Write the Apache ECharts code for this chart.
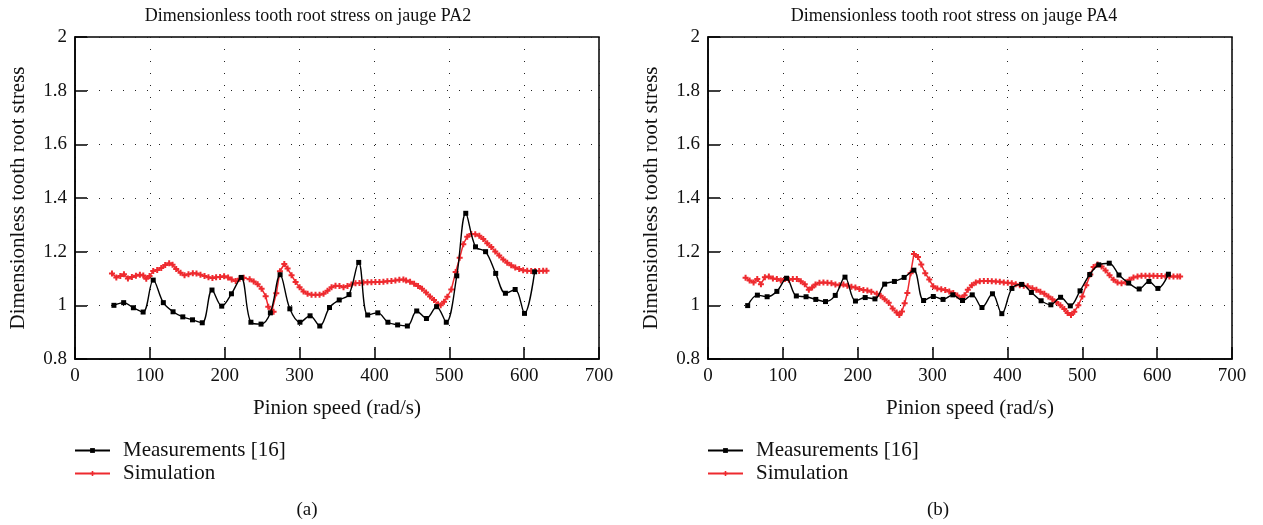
<!DOCTYPE html>
<html>
<head>
<meta charset="utf-8">
<script src="https://cdn.jsdelivr.net/npm/echarts@6/dist/echarts.min.js"></script>
<style>
html,body{margin:0;padding:0;background:#fff;}
#c{width:1263px;height:525px;}
</style>
</head>
<body>
<div id="c"></div>
<script>
// ---- data (a): jauge PA2 ----
const measX_a = [52,65,78,91,104.5,118,131,144,157,170,183,196,209,222,235,248.5,261,274,287,300.5,314,327,340,353,366,379,391,404.5,418,431,444,456.5,469.5,483,496,510,522,535,548.5,562,575,588,600.5,614];
const measY_a = [1.0,1.01,0.991,0.975,1.094,1.01,0.976,0.957,0.946,0.935,1.057,0.997,1.043,1.104,0.937,0.930,0.972,1.114,0.987,0.937,0.961,0.923,0.992,1.02,1.04,1.16,0.964,0.972,0.937,0.927,0.923,0.979,0.951,0.995,0.937,1.11,1.343,1.218,1.20,1.119,1.045,1.059,0.97,1.125];
const simX_a = [49.4,55.2,60.5,65.4,70.7,76,81.4,86.7,91.2,95.2,99.6,104.5,109.8,115.2,120.5,125.8,130.3,135.2,141,146.3,151.6,157.4,162.3,167.6,173,178.3,183.6,188.5,193.8,199.2,204.5,209.4,214.7,220,225.4,233.3,238.7,244,249.3,254.7,258.2,262.7,265.3,268.9,273.8,279.6,284,289.3,294.7,300,305.3,310.7,316,321.3,326.7,332,337.3,342.7,348,353.3,358.7,364,369.3,374.7,380,385.3,390.7,396,401.3,406.7,412,417.3,422.7,428,433.3,438.7,442.3,447.6,453,458.3,463.6,469,474.3,479.6,485,488.5,493,497.4,502.7,508.5,513.9,518.7,524,529.4,534.7,540.1,545.4,550.7,556.1,561.4,566.7,572.1,577.4,582.7,588.1,593.4,598.7,604.1,609.4,614.7,620.1,625.4,629.9];
const simY_a = [1.119,1.104,1.109,1.116,1.100,1.106,1.11,1.114,1.111,1.099,1.109,1.128,1.132,1.139,1.15,1.157,1.151,1.135,1.121,1.112,1.116,1.12,1.119,1.114,1.109,1.105,1.102,1.105,1.106,1.108,1.104,1.096,1.091,1.099,1.103,1.097,1.089,1.079,1.062,1.034,0.995,0.976,0.976,1.045,1.127,1.154,1.137,1.112,1.087,1.067,1.052,1.043,1.039,1.039,1.039,1.043,1.054,1.067,1.073,1.072,1.067,1.072,1.078,1.082,1.083,1.085,1.086,1.086,1.087,1.087,1.088,1.090,1.091,1.093,1.095,1.096,1.093,1.088,1.080,1.072,1.062,1.048,1.033,1.020,1.004,1.0,1.013,1.032,1.059,1.124,1.177,1.228,1.256,1.266,1.265,1.259,1.247,1.231,1.217,1.201,1.186,1.171,1.159,1.149,1.141,1.135,1.131,1.129,1.128,1.128,1.128,1.129,1.129];

// ---- data (b): jauge PA4 ----
const measX_b = [53,66,79,92,105,118,131,144,157,170,183,197,210,223,236,249,262,275,288,301,314,327,340,353,366,380,392.5,406,419,432,445,458,471,484,497,510,522,536,549,562,576,589,601,615];
const measY_b = [0.999,1.038,1.032,1.052,1.101,1.035,1.032,1.022,1.014,1.037,1.105,1.016,1.029,1.024,1.079,1.089,1.104,1.131,1.018,1.033,1.022,1.039,1.018,1.039,0.992,1.043,0.969,1.063,1.078,1.048,1.017,1.002,1.030,0.998,1.054,1.115,1.151,1.157,1.113,1.083,1.061,1.089,1.063,1.116];
const simX_b = [50.2,55.6,60.9,65.8,70.7,76,81.3,86.7,92,97.3,102.7,108,113.3,118.7,124,129.3,134.7,139.1,143.6,148.9,154.2,159.6,164.9,170.2,175.6,180.9,186.2,191.6,196.9,202.2,207.6,212.9,218.2,225.4,230.7,236,241.4,246.7,252,255.6,259.1,262.7,266.3,270.7,275.1,280.5,284.9,290.2,295.6,300.9,306.3,311.6,316.9,322.3,327.6,333,338.3,342.7,347.1,352.5,357.8,363.1,368.5,373.8,379.1,384.5,389.8,395.1,400.5,405.8,411.1,416.5,421.8,427.1,433.3,438.7,444,449.3,454.7,460,465.3,470.7,476,480.4,484.9,489.3,494.7,500,505.3,510.7,515.1,520.4,525.8,531.1,536.4,541.8,547.1,552.4,557.8,563.1,568.4,573.8,579.1,584.4,589.8,595.1,600.4,605.8,611.1,616.4,621.8,627.1,630.7];
const simY_b = [1.103,1.093,1.085,1.098,1.079,1.105,1.107,1.100,1.098,1.093,1.098,1.095,1.098,1.098,1.090,1.079,1.058,1.066,1.078,1.084,1.085,1.084,1.082,1.078,1.075,1.078,1.073,1.069,1.066,1.061,1.057,1.055,1.051,1.043,1.036,1.023,1.010,0.988,0.973,0.964,0.977,1.008,1.046,1.12,1.191,1.18,1.152,1.12,1.096,1.071,1.063,1.06,1.057,1.052,1.046,1.037,1.026,1.038,1.058,1.075,1.085,1.090,1.091,1.091,1.090,1.089,1.088,1.085,1.084,1.082,1.079,1.075,1.073,1.071,1.064,1.058,1.051,1.043,1.033,1.023,1.012,1.0,0.986,0.971,0.964,0.976,1.0,1.033,1.075,1.115,1.143,1.152,1.145,1.130,1.112,1.095,1.085,1.082,1.086,1.095,1.104,1.107,1.110,1.110,1.110,1.110,1.109,1.109,1.107,1.107,1.107,1.107,1.107];

const titles = ['Dimensionless tooth root stress on jauge PA2', 'Dimensionless tooth root stress on jauge PA4'];
const panelLabels = ['(a)', '(b)'];
const xName = 'Pinion speed (rad/s)';
const yName = 'Dimensionless tooth root stress';
const measName = 'Measurements [16]';
const simName = 'Simulation';

const FONT = 'Liberation Serif';
const zip = (xs, ys) => xs.map((x, i) => [x, ys[i]]);
const plusPath = 'path://M2,0h2v2h2v2h-2v2h-2v-2h-2v-2h2z';

const gridLefts = [75, 708];
const W = 524, H = 322, TOP = 37;

function xAxisOf(i) {
  return {
    gridIndex: i, type: 'value', min: 0, max: 700, interval: 100,
    name: xName, nameLocation: 'middle', nameGap: 39,
    nameTextStyle: {fontFamily: FONT, fontSize: 21, color: '#111'},
    axisLine: {show: true, lineStyle: {color: '#000', width: 1.5}},
    axisTick: {show: true, inside: true, length: 12, lineStyle: {color: '#000', width: 1.5}},
    axisLabel: {fontFamily: FONT, fontSize: 19, color: '#111', margin: 8},
    splitLine: {show: true, lineStyle: {color: '#222', width: 1, type: [1, 11]}}
  };
}
function yAxisOf(i) {
  return {
    gridIndex: i, type: 'value', min: 0.8, max: 2, interval: 0.2,
    name: yName, nameLocation: 'middle', nameGap: 46, nameRotate: 90,
    nameTextStyle: {fontFamily: FONT, fontSize: 21, color: '#111'},
    axisLine: {show: true, lineStyle: {color: '#000', width: 1.5}},
    axisTick: {show: true, inside: true, length: 12, lineStyle: {color: '#000', width: 1.5}},
    axisLabel: {fontFamily: FONT, fontSize: 19, color: '#111', margin: 8,
      formatter: v => String(Math.round(v * 10) / 10)},
    splitLine: {show: true, lineStyle: {color: '#222', width: 1, type: [1, 11]}}
  };
}
function seriesOf(i, mx, my, sx, sy) {
  return [
    {name: simName, type: 'line', xAxisIndex: i, yAxisIndex: i, data: zip(sx, sy),
     symbol: plusPath, symbolSize: 6, showSymbol: true, smooth: false,
     lineStyle: {color: '#ee2a2f', width: 1.5}, itemStyle: {color: '#ee2a2f'}, z: 2, animation: false},
    {name: measName, type: 'line', xAxisIndex: i, yAxisIndex: i, data: zip(mx, my),
     symbol: 'rect', symbolSize: 5, showSymbol: true, smooth: 0.35,
     lineStyle: {color: '#000', width: 1.4}, itemStyle: {color: '#000'}, z: 3, animation: false}
  ];
}
function legendOf(i) {
  return {
    left: gridLefts[i] - 6, top: 435, orient: 'vertical',
    data: [measName, simName], itemWidth: 35, itemHeight: 6, itemGap: 2,
    textStyle: {fontFamily: FONT, fontSize: 21, color: '#111', lineHeight: 20, padding: [0, 0, 0, 8]},
    selectedMode: false
  };
}

const chart = echarts.init(document.getElementById('c'), null, {renderer: 'canvas'});
chart.setOption({
  backgroundColor: '#fff',
  animation: false,
  grid: gridLefts.map(l => ({left: l, top: TOP, width: W, height: H, show: true,
    borderColor: '#000', borderWidth: 1.5, containLabel: false, outerBoundsMode: 'none'})),
  xAxis: [xAxisOf(0), xAxisOf(1)],
  yAxis: [yAxisOf(0), yAxisOf(1)],
  legend: [legendOf(0), legendOf(1)],
  series: [...seriesOf(0, measX_a, measY_a, simX_a, simY_a), ...seriesOf(1, measX_b, measY_b, simX_b, simY_b)],
  graphic: [
    {type: 'text', x: 308, y: 16, style: {text: titles[0], font: '18px "Liberation Serif"', fill: '#111', textAlign: 'center', textVerticalAlign: 'middle'}},
    {type: 'text', x: 954, y: 16, style: {text: titles[1], font: '18px "Liberation Serif"', fill: '#111', textAlign: 'center', textVerticalAlign: 'middle'}},
    {type: 'text', x: 307, y: 510, style: {text: panelLabels[0], font: '19px "Liberation Serif"', fill: '#111', textAlign: 'center', textVerticalAlign: 'middle'}},
    {type: 'text', x: 938, y: 510, style: {text: panelLabels[1], font: '19px "Liberation Serif"', fill: '#111', textAlign: 'center', textVerticalAlign: 'middle'}}
  ]
});
</script>
</body>
</html>
